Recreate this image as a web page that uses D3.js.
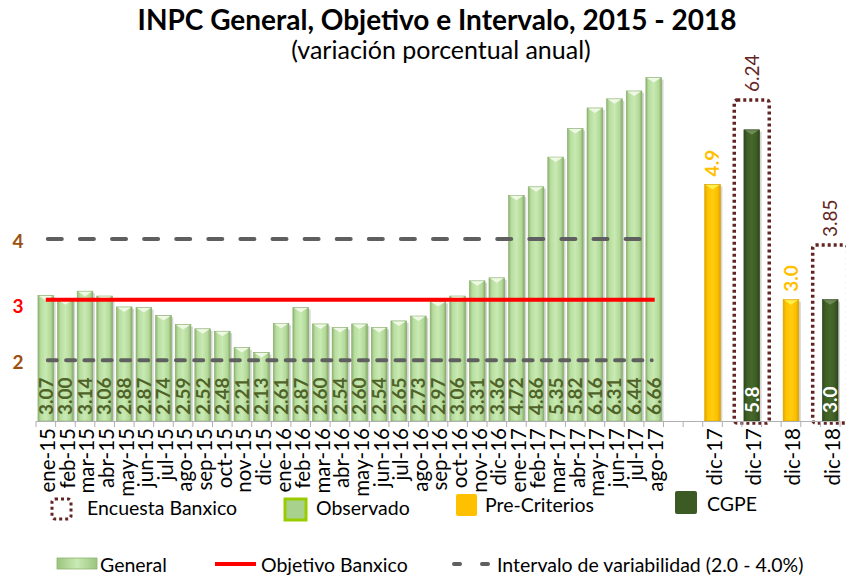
<!DOCTYPE html>
<html>
<head>
<meta charset="utf-8">
<script src="https://cdn.jsdelivr.net/npm/d3@7"></script>
<style>
body { margin: 0; background: #fff; }
text { font-family: Lato, "Open Sans", sans-serif; }
</style>
</head>
<body>
<div id="chart"></div>
<script>
// observed monthly inflation
var months = ["ene-15","feb-15","mar-15","abr-15","may-15","jun-15","jul-15","ago-15","sep-15","oct-15","nov-15","dic-15",
  "ene-16","feb-16","mar-16","abr-16","may-16","jun-16","jul-16","ago-16","sep-16","oct-16","nov-16","dic-16",
  "ene-17","feb-17","mar-17","abr-17","may-17","jun-17","jul-17","ago-17"];
var general = [3.07,3.00,3.14,3.06,2.88,2.87,2.74,2.59,2.52,2.48,2.21,2.13,
  2.61,2.87,2.60,2.54,2.60,2.54,2.65,2.73,2.97,3.06,3.31,3.36,
  4.72,4.86,5.35,5.82,6.16,6.31,6.44,6.66];

// forecasts
var forecastCats = ["dic-17","dic-17","dic-18","dic-18"];
var forecastSource = ["Pre-Criterios","CGPE","Pre-Criterios","CGPE"];
var forecastValues = [4.9, 5.8, 3.0, 3.0];
var encuestaValues = [null, 6.24, null, 3.85];

var objetivo = 3;
var intervalo = [2, 4];
var yLabels = [4, 3, 2];

var width = 846, height = 578;

var svg = d3.select("#chart").append("svg")
  .attr("width", width)
  .attr("height", height);

svg.append("rect").attr("width", width).attr("height", height).attr("fill", "#fff");

// category keys: months, 2 blanks, then forecasts with a blank between each
var keys = months.slice();
var labelOf = {};
months.forEach(function(m) { labelOf[m] = m; });
keys.push("_a", "_b");
forecastCats.forEach(function(c, i) {
  if (i > 0) keys.push("_g" + i);
  keys.push("f" + i);
  labelOf["f" + i] = c;
});

var x = d3.scaleBand()
  .domain(keys)
  .range([36, 840])
  .paddingInner(0.2)
  .paddingOuter(0.1);

var y = d3.scaleLinear()
  .domain([1, 7])
  .range([421, 421 - 6 * 60.67]);

var base = y(1);
var step = x.step();

// gradients
var defs = svg.append("defs");
function hGrad(id, stops) {
  var g = defs.append("linearGradient").attr("id", id)
    .attr("x1", "0%").attr("x2", "100%").attr("y1", "0%").attr("y2", "0%");
  stops.forEach(function(s) {
    g.append("stop").attr("offset", s[0]).attr("stop-color", s[1]);
  });
}
hGrad("gGreen", [["0%", "#8cb56f"], ["18%", "#b8dd9f"], ["50%", "#c8eab3"], ["82%", "#b3d898"], ["100%", "#85ad68"]]);
hGrad("gYellow", [["0%", "#e0a800"], ["20%", "#ffc400"], ["50%", "#ffcc10"], ["80%", "#ffc000"], ["100%", "#d9a300"]]);
hGrad("gDark", [["0%", "#2f4a1b"], ["20%", "#3f5f26"], ["50%", "#46682b"], ["80%", "#3d5c25"], ["100%", "#2c4519"]]);
hGrad("gLegend", [["0%", "#9cc47f"], ["50%", "#c8eab3"], ["100%", "#9cc47f"]]);

// ---- observed bars ----
var obs = months.map(function(m, i) { return { key: m, value: general[i] }; });

var bars = svg.append("g").attr("class", "bars");

function drawBar(g, d, fill, topFill, stroke) {
  var x0 = x(d.key), w = x.bandwidth(), top = y(d.value);
  g.append("rect")
    .attr("x", x0 + 2).attr("y", top + 2)
    .attr("width", w).attr("height", base - top - 2)
    .attr("fill", "#c4c4c4").attr("opacity", 0.7);
  g.append("rect")
    .attr("x", x0).attr("y", top)
    .attr("width", w).attr("height", base - top)
    .attr("fill", fill)
    .attr("stroke", stroke).attr("stroke-width", 0.6);
  g.append("path")
    .attr("d", "M" + (x0 + 1) + "," + (top + 0.5) + "L" + (x0 + w - 1) + "," + (top + 0.5) +
      "L" + (x0 + w / 2) + "," + (top + 5) + "Z")
    .attr("fill", topFill);
}

obs.forEach(function(d) { drawBar(bars, d, "url(#gGreen)", "#eef8e4", "#86aa6c"); });

bars.selectAll(".obs-label")
  .data(obs)
  .enter().append("text")
  .attr("class", "obs-label")
  .attr("transform", function(d) {
    return "translate(" + (x(d.key) + x.bandwidth() / 2) + "," + (base - 6) + ") rotate(-90)";
  })
  .attr("dy", "0.36em")
  .attr("font-size", 19)
  .attr("font-weight", "bold")
  .attr("fill", "#4f6228")
  .text(function(d) { return d.value.toFixed(2); });

// ---- forecast bars ----
var fc = forecastValues.map(function(v, i) {
  return { key: "f" + i, value: v, source: forecastSource[i], encuesta: encuestaValues[i] };
});

fc.forEach(function(d) {
  if (d.source === "CGPE") drawBar(bars, d, "url(#gDark)", "#6e8a56", "#2c4519");
  else drawBar(bars, d, "url(#gYellow)", "#fff04a", "#d9a300");
});

// survey boxes
var enc = fc.filter(function(d) { return d.encuesta != null; });
bars.selectAll(".enc-box")
  .data(enc)
  .enter().append("rect")
  .attr("class", "enc-box")
  .attr("x", function(d) { return x(d.key) + x.bandwidth() / 2 - 17.5; })
  .attr("y", function(d) { return y(d.encuesta) - 3; })
  .attr("width", 35)
  .attr("height", function(d) { return base + 2 - (y(d.encuesta) - 3); })
  .attr("rx", 3)
  .attr("fill", "none")
  .attr("stroke", "#632523")
  .attr("stroke-width", 3.5)
  .attr("stroke-dasharray", "3,3");

bars.selectAll(".enc-label")
  .data(enc)
  .enter().append("text")
  .attr("class", "enc-label")
  .attr("transform", function(d) {
    return "translate(" + (x(d.key) + x.bandwidth() / 2) + "," + (y(d.encuesta) - 11) + ") rotate(-90)";
  })
  .attr("dy", "0.36em")
  .attr("font-size", 19)
  .attr("fill", "#632523")
  .text(function(d) { return d.encuesta.toFixed(2); });

// forecast value labels
bars.selectAll(".fc-label")
  .data(fc)
  .enter().append("text")
  .attr("class", "fc-label")
  .attr("transform", function(d) {
    var cx = x(d.key) + x.bandwidth() / 2;
    var yy = d.source === "CGPE" ? base - 8 : y(d.value) - 8;
    return "translate(" + cx + "," + yy + ") rotate(-90)";
  })
  .attr("dy", "0.36em")
  .attr("font-size", 19)
  .attr("font-weight", "bold")
  .attr("fill", function(d) { return d.source === "CGPE" ? "#ffffff" : "#ffc000"; })
  .text(function(d) { return d.value.toFixed(1); });

// ---- reference lines ----
var xFirst = x(months[0]) + x.bandwidth() / 2;
var xLast = x(months[months.length - 1]) + x.bandwidth() / 2;

svg.append("line")
  .attr("x1", xFirst + 2).attr("x2", 640)
  .attr("y1", y(intervalo[1])).attr("y2", y(intervalo[1]))
  .attr("stroke", "#5f5f5f").attr("stroke-width", 4)
  .attr("stroke-linecap", "round")
  .attr("stroke-dasharray", "14,18.1");

svg.append("line")
  .attr("x1", xFirst + 2).attr("x2", xLast - 2)
  .attr("y1", y(intervalo[0])).attr("y2", y(intervalo[0]))
  .attr("stroke", "#5f5f5f").attr("stroke-width", 4)
  .attr("stroke-linecap", "round")
  .attr("stroke-dasharray", "9,9.3");

svg.append("line")
  .attr("x1", xFirst).attr("x2", xLast + 1)
  .attr("y1", y(objetivo)).attr("y2", y(objetivo))
  .attr("stroke", "#ff0000").attr("stroke-width", 4);

// y labels
svg.selectAll(".ylab")
  .data(yLabels)
  .enter().append("text")
  .attr("class", "ylab")
  .attr("x", 18)
  .attr("y", function(d) { return y(d) + (d === objetivo ? 6 : 2); })
  .attr("dy", "0.36em")
  .attr("text-anchor", "middle")
  .attr("font-size", 19)
  .attr("font-weight", "bold")
  .attr("fill", function(d) { return d === objetivo ? "#ff0000" : "#9c500f"; })
  .text(function(d) { return d; });

// ---- x axis ----
var axis = svg.append("g").attr("class", "x-axis");
axis.append("line")
  .attr("x1", x.range()[0]).attr("x2", x.range()[1])
  .attr("y1", base + 0.5).attr("y2", base + 0.5)
  .attr("stroke", "#b0b0b0").attr("stroke-width", 1);

axis.selectAll(".tick-mark")
  .data(d3.range(keys.length + 1))
  .enter().append("line")
  .attr("class", "tick-mark")
  .attr("x1", function(i) { return x.range()[0] + i * step; })
  .attr("x2", function(i) { return x.range()[0] + i * step; })
  .attr("y1", base).attr("y2", base + 6)
  .attr("stroke", "#b0b0b0").attr("stroke-width", 1);

axis.selectAll(".xlab")
  .data(keys.filter(function(k) { return labelOf[k]; }))
  .enter().append("text")
  .attr("class", "xlab")
  .attr("transform", function(k) {
    return "translate(" + (x(k) + x.bandwidth() / 2 + 2) + "," + (base + 7) + ") rotate(-90)";
  })
  .attr("dy", "0.36em")
  .attr("text-anchor", "end")
  .attr("font-size", 20.5)
  .attr("fill", "#000")
  .text(function(k) { return labelOf[k]; });

// ---- titles ----
svg.append("text")
  .attr("x", 437).attr("y", 30)
  .attr("text-anchor", "middle")
  .attr("font-size", 28)
  .attr("font-weight", "bold")
  .text("INPC General, Objetivo e Intervalo, 2015 - 2018");

svg.append("text")
  .attr("x", 441).attr("y", 59)
  .attr("text-anchor", "middle")
  .attr("font-size", 25)
  .text("(variación porcentual anual)");

// ---- legend ----
var leg = svg.append("g").attr("class", "legend").attr("font-size", 19.5);

leg.append("rect")
  .attr("x", 52).attr("y", 499).attr("width", 19).attr("height", 20).attr("rx", 3)
  .attr("fill", "none").attr("stroke", "#632523").attr("stroke-width", 3)
  .attr("stroke-dasharray", "3,3");
leg.append("text").attr("x", 87).attr("y", 515).text("Encuesta Banxico");

leg.append("rect")
  .attr("x", 285).attr("y", 499).attr("width", 21).attr("height", 21)
  .attr("fill", "#a9d18e").attr("stroke", "#99cc00").attr("stroke-width", 3);
leg.append("text").attr("x", 316).attr("y", 515).text("Observado");

leg.append("rect")
  .attr("x", 456).attr("y", 494).attr("width", 21).attr("height", 22).attr("rx", 2)
  .attr("fill", "#ffc000");
leg.append("text").attr("x", 485).attr("y", 512).text("Pre-Criterios");

leg.append("rect")
  .attr("x", 675).attr("y", 491).attr("width", 22).attr("height", 23).attr("rx", 2)
  .attr("fill", "#3c5a24");
leg.append("text").attr("x", 707).attr("y", 511).text("CGPE");

leg.append("rect")
  .attr("x", 57).attr("y", 558).attr("width", 40).attr("height", 11)
  .attr("fill", "url(#gLegend)").attr("stroke", "#8cb56f").attr("stroke-width", 0.8);
leg.append("text").attr("x", 100).attr("y", 572).text("General");

leg.append("line")
  .attr("x1", 215).attr("x2", 256).attr("y1", 564).attr("y2", 564)
  .attr("stroke", "#ff0000").attr("stroke-width", 4);
leg.append("text").attr("x", 261).attr("y", 572).text("Objetivo Banxico");

leg.append("line")
  .attr("x1", 454).attr("x2", 490).attr("y1", 564).attr("y2", 564)
  .attr("stroke", "#5f5f5f").attr("stroke-width", 4)
  .attr("stroke-linecap", "round")
  .attr("stroke-dasharray", "6,22");
leg.append("text").attr("x", 497).attr("y", 572).text("Intervalo de variabilidad (2.0 - 4.0%)");
</script>
</body>
</html>
